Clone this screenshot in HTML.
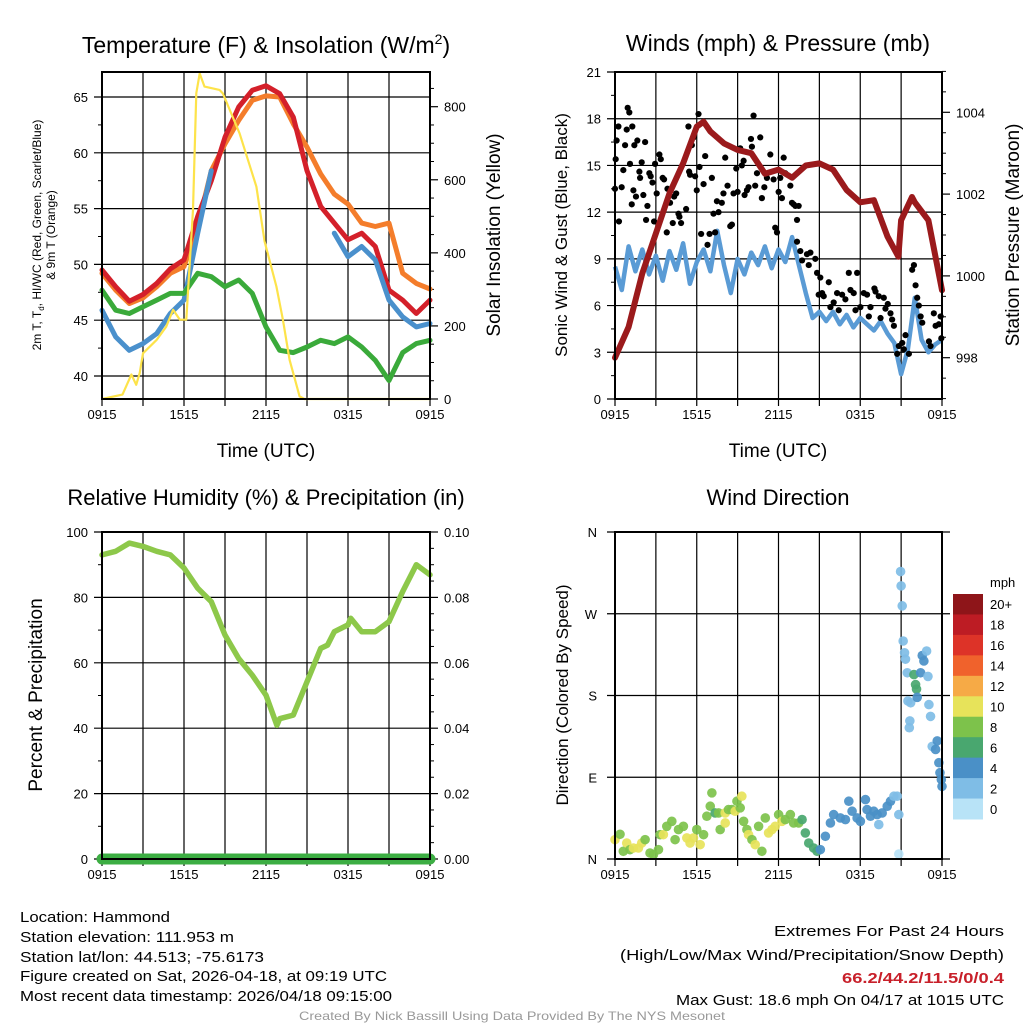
<!DOCTYPE html>
<html><head><meta charset="utf-8"><title>Hammond Meteogram</title>
<style>
html,body{margin:0;padding:0;background:#fff;}
svg{display:block;font-family:"Liberation Sans",Arial,sans-serif;}
</style></head>
<body>
<svg id="chart" width="1024" height="1024" viewBox="0 0 1024 1024" xmlns="http://www.w3.org/2000/svg">
<rect x="0" y="0" width="1024" height="1024" fill="#fff"/>
<g id="layer"></g>
<g font-size="15" fill="#000">
<text x="20" y="922" textLength="150" lengthAdjust="spacingAndGlyphs">Location: Hammond</text>
<text x="20" y="942" textLength="214" lengthAdjust="spacingAndGlyphs">Station elevation: 111.953 m</text>
<text x="20" y="962" textLength="244" lengthAdjust="spacingAndGlyphs">Station lat/lon: 44.513; -75.6173</text>
<text x="20" y="981" textLength="367" lengthAdjust="spacingAndGlyphs">Figure created on Sat, 2026-04-18, at 09:19 UTC</text>
<text x="20" y="1001" textLength="372" lengthAdjust="spacingAndGlyphs">Most recent data timestamp: 2026/04/18 09:15:00</text>
</g>
<g font-size="15" fill="#000" text-anchor="end">
<text x="1004" y="936" textLength="230" lengthAdjust="spacingAndGlyphs">Extremes For Past 24 Hours</text>
<text x="1004" y="960" textLength="384" lengthAdjust="spacingAndGlyphs">(High/Low/Max Wind/Precipitation/Snow Depth)</text>
<text x="1004" y="983" textLength="162" lengthAdjust="spacingAndGlyphs" font-weight="bold" fill="#c8202a">66.2/44.2/11.5/0/0.4</text>
<text x="1004" y="1005" textLength="328" lengthAdjust="spacingAndGlyphs">Max Gust: 18.6 mph On 04/17 at 1015 UTC</text>
</g>
<text x="512" y="1020" font-size="12" fill="#999" text-anchor="middle" textLength="426" lengthAdjust="spacingAndGlyphs">Created By Nick Bassill Using Data Provided By The NYS Mesonet</text>
</svg>
<script>
// ---------- DATA ----------
const xTickLabels = ["0915","1515","2115","0315","0915"];
const hours = [0,1,2,3,4,5,6,7,8,9,10,11,12,13,14,15,16,17,18,19,20,21,22,23,24];
const tempT = [49.5,48.0,46.7,47.3,48.3,49.6,50.4,54.3,57.5,61.4,64.1,65.6,66.0,65.3,63.2,58.4,55.2,53.7,52.2,52.8,51.6,47.7,46.8,45.6,46.8];
const temp9m = [49.2,47.7,46.5,47.0,48.0,49.2,49.8,53.4,58.4,60.8,62.9,64.7,65.1,65.0,62.6,60.5,58.1,56.3,55.4,53.7,53.4,53.7,49.2,48.3,47.8];
const tempHIWC = [45.9,43.5,42.3,42.9,43.8,45.6,46.8,52.8,58.4,null,null,null,null,null,null,null,null,52.8,50.7,51.6,50.4,46.8,45.3,44.4,44.7];
const dewpoint = [47.7,45.9,45.6,46.2,46.8,47.4,47.4,49.2,48.9,48.0,48.6,47.4,44.4,42.3,42.1,42.6,43.2,42.9,43.5,42.6,41.4,39.6,42.1,42.9,43.2];
const solarHours = [0,1.5,2.15,2.5,2.76,3.0,4.0,4.7,5.2,5.7,6.17,6.66,6.9,7.15,7.5,8.6,8.85,10.07,11.3,11.9,12.76,13.24,13.73,14.46,14.8,24];
const solarValues = [0,12,67,39,71,125,162,198,244,217,217,518,837,891,855,846,836,727,581,431,308,217,107,7,0,0];
const tempTicks = [40,45,50,55,60,65];
const solarTicks = [0,200,400,600,800];

const halfHours = [0,0.5,1,1.5,2,2.5,3,3.5,4,4.5,5,5.5,6,6.5,7,7.5,8,8.5,9,9.5,10,10.5,11,11.5,12,12.5,13,13.5,14,14.5,15,15.5,16,16.5,17,17.5,18,18.5,19,19.5,20,20.5,21,21.5,22,22.5,23,23.5,24];
const sonicWind = [8.5,7.0,9.8,8.2,9.6,8.0,9.2,7.6,9.5,8.3,10.0,7.4,8.8,9.6,8.2,10.8,8.6,6.8,9.0,8.0,9.4,8.6,9.8,8.4,9.6,8.8,10.4,8.6,6.8,5.2,5.6,5.0,5.6,4.8,5.4,4.6,5.2,4.8,4.4,5.0,4.2,3.6,1.6,3.2,6.5,3.8,3.0,3.5,3.8];
const gustHours = [0,0.05,0.12,0.25,0.29,0.49,0.61,0.74,0.86,0.93,1.05,1.10,1.23,1.27,1.35,1.42,1.54,1.64,1.79,1.84,1.96,2.08,2.21,2.28,2.38,2.52,2.62,2.75,2.87,2.94,3.06,3.26,3.36,3.50,3.60,3.80,3.85,4.04,4.24,4.34,4.49,4.66,4.73,4.85,5.22,5.39,5.44,5.51,5.64,5.76,5.88,6.00,6.13,6.2,6.32,6.5,6.62,6.79,6.94,7.11,7.23,7.35,7.48,7.6,7.84,7.96,8.09,8.26,8.46,8.58,8.70,8.9,9.0,9.19,9.31,9.44,9.51,9.68,9.8,9.98,10.05,10.17,10.29,10.42,10.66,10.78,10.96,11.15,11.4,11.64,11.76,11.89,12.01,12.13,12.25,12.38,12.5,12.87,12.99,13.11,13.24,13.36,13.48,13.36,13.6,13.73,14.09,14.22,14.34,14.7,14.83,14.95,15.07,15.2,15.32,15.69,15.81,16.05,16.3,16.42,16.67,16.91,17.16,17.28,17.52,17.65,17.77,18.01,18.26,18.5,18.63,18.75,19.04,19.12,19.36,19.49,19.73,19.85,20.02,20.22,20.34,20.47,20.71,20.83,21.08,21.2,21.32,21.57,21.81,21.94,22.06,22.18,22.3,22.43,22.55,23.04,23.16,23.4,23.53,23.77,23.9,23.95];
const gustValues = [13.5,15.4,16.6,17.5,11.4,13.6,14.7,16.3,17.3,18.7,18.4,15.1,12.5,17.5,13.4,16.3,13.0,16.6,14.6,14.2,15.2,13.1,16.5,11.5,12.4,14.5,14.3,13.9,11.4,15.1,13.2,15.7,15.4,14.2,14.1,10.7,13.5,12.6,11.3,13.0,13.2,11.9,11.7,11.3,12.2,17.5,14.6,14.4,16.3,16.8,14.3,13.4,18.3,14.9,10.6,13.8,15.6,9.9,10.6,14.2,11.9,10.7,12.7,12.0,12.6,13.2,15.5,13.7,11.1,11.2,13.2,14.8,13.3,16.1,15.0,15.3,13.1,13.4,13.6,16.7,16.2,18.2,13.7,14.5,16.8,12.9,13.6,14.2,15.7,14.1,11.0,10.7,13.3,14.2,12.9,15.5,14.5,13.7,12.6,12.5,12.4,11.5,12.4,10.1,9.5,8.9,9.3,8.6,9.4,9.0,8.1,6.7,7.8,6.8,6.6,7.5,5.9,6.2,6.8,5.7,6.7,6.4,8.1,7.0,6.8,5.7,8.1,5.9,6.8,6.7,5.3,5.9,7.1,6.9,6.6,5.2,6.5,5.8,6.1,5.5,5.1,4.7,2.9,3.4,3.6,3.2,4.1,2.9,8.3,8.6,7.3,6.5,6.0,5.3,4.9,3.7,3.4,5.5,4.7,4.8,5.3,3.9];
const pressureHours = [0,1,2,3,4,5,6,6.5,7,8,9,10,11,12,13,14,15,16,17,18,19,20,20.8,21,21.8,22,23,24];
const pressureValues = [998.0,998.75,1000.06,1001.04,1002.02,1002.75,1003.65,1003.77,1003.53,1003.24,1003.08,1003.0,1002.5,1002.6,1002.4,1002.7,1002.75,1002.6,1002.1,1001.8,1001.85,1000.96,1000.47,1001.36,1001.93,1001.8,1001.36,999.65];
const windTicks = [0,3,6,9,12,15,18,21];
const pressureTicks = [998,1000,1002,1004];

const rhHours = [0,1,2,3,4,5,6,7,8,9,10,11,12,12.8,13,14,15,16,16.5,17,18,18.2,19,20,21,22,23,24];
const rhValues = [93.0,94.1,96.6,95.6,94.1,93.0,89.0,82.8,78.7,68.5,61.3,56.2,50.1,40.9,42.9,44.0,54.2,64.4,65.4,69.5,71.6,73.6,69.5,69.5,72.6,81.8,90.0,86.9];
const precipHours = [0,24];
const precipValues = [0,0];
const rhTicks = [0,20,40,60,80,100];
const precipTicks = ["0.00","0.02","0.04","0.06","0.08","0.10"];

const dirHours = [0,0.37,0.61,0.86,1.10,1.35,1.72,1.96,2.21,2.57,2.82,3.19,3.31,3.55,3.80,4.17,4.41,4.66,5.02,5.27,5.51,5.76,6.00,6.25,6.50,6.74,6.99,7.11,7.35,7.60,7.72,8.09,8.09,8.33,8.58,8.82,8.95,9.19,9.31,9.44,9.68,9.80,10.05,10.29,10.54,10.78,11.03,11.27,11.52,11.76,12.01,12.25,12.50,12.87,13.11,13.48,13.73,13.97,14.22,14.58,14.83,15.07,15.44,15.81,16.05,16.54,16.91,17.16,17.40,17.77,18.01,18.38,18.50,18.75,18.99,19.24,19.36,19.61,19.98,20.22,20.47,20.71,20.83,20.83,20.96,21.0,21.08,21.15,21.25,21.32,21.45,21.5,21.7,21.64,21.6,21.94,22.06,22.13,22.18,22.43,22.55,22.67,22.87,22.97,23.04,23.16,23.28,23.53,23.65,23.77,23.85,23.95,24.0];
const dirDegrees = [21.3,27.2,8.5,17.6,10.3,12.1,12.1,17.6,21.3,6.6,4.8,10.3,26.8,26.8,36.0,41.5,21.3,32.4,36.0,23.2,17.6,23.2,32.4,15.8,26.8,47.1,58.1,72.8,50.7,50.7,32.4,50.7,39.7,54.4,54.4,52.6,63.6,56.3,69.1,41.5,32.4,26.8,21.3,15.8,36.0,8.5,45.2,28.7,32.4,36.0,48.9,41.5,43.4,48.9,39.7,39.7,43.4,28.7,17.6,12.1,8.5,10.3,25.0,39.7,48.9,45.2,43.4,63.6,52.6,45.2,41.5,65.4,54.4,47.1,52.6,48.9,37.9,50.7,58.1,63.6,69.1,69.1,48.9,5.5,316.5,300.7,278.7,240,227,220,205,174,172,152,144.5,203,192,187,178,205,224,218,229,201,170,157,124,120.6,130,106,95,87.5,80];
const dirSpeeds = [11,9,9,11,9,11,11,11,9,9,9,9,9,11,9,9,9,9,9,11,11,11,9,11,9,9,9,9,7,9,9,11,11,9,9,11,9,9,11,9,9,11,9,11,9,9,9,11,11,11,9,11,9,9,9,9,7,7,7,7,7,5,5,5,5,5,5,5,5,5,5,5,5,5,5,5,3,5,5,5,3,3,3,1,3,3,3,3,3,3,3,3,3,3,3,7,7,7,5,5,5,5,3,3,3,3,3,5,5,5,5,5,5];
const dirTicks = ["N","E","S","W","N"];
const speedBins = ["20+","18","16","14","12","10","8","6","4","2","0"];
const speedColors = ["#8e1519","#bd1c24","#dd3328","#f0622c","#f6aa46","#e7e35a","#7dc24b","#49a76f","#4a90c7","#7fbde6","#b8e3f7"];

// ---------- HELPERS ----------
const NS = "http://www.w3.org/2000/svg";
const layer = document.getElementById("layer");
function mk(tag, attrs, parent){
  const e = document.createElementNS(NS, tag);
  for (const k in attrs) e.setAttribute(k, attrs[k]);
  (parent||layer).appendChild(e);
  return e;
}
function txt(x,y,s,size,anchor,parent,extra){
  const t = mk("text", Object.assign({x:x,y:y,"font-size":size,"text-anchor":anchor||"middle",fill:"#000"}, extra||{}), parent);
  t.textContent = s;
  return t;
}
function linear(d0,d1,r0,r1){ return v => r0 + (v-d0)*(r1-r0)/(d1-d0); }
function pathFrom(xs, ys, xf, yf){
  let d = "", pen = false;
  for (let i=0;i<xs.length;i++){
    if (ys[i]===null){ pen=false; continue; }
    d += (pen?"L":"M") + xf(xs[i]).toFixed(1) + " " + yf(ys[i]).toFixed(1);
    pen = true;
  }
  return d;
}
function panelFrame(g, L, R, T, B, xf){
  for (let h=3; h<24; h+=3){
    const gl = mk("line",{x1:xf(h),x2:xf(h),y1:T,y2:B,stroke:"#000","stroke-width":1.2},g);
    
    
  }
  for (let h=0; h<=24; h+=3){
    const tk = mk("line",{x1:xf(h),x2:xf(h),y1:B,y2:B+7,stroke:"#000","stroke-width":1.2},g);
    
    
  }
  xTickLabels.forEach((s,i)=>{
    const t = txt(xf(i*6), B+20, s, 13, "middle", g);
    
    
  });
}
function border(g,L,R,T,B){
  const r = mk("rect",{x:L,y:T,width:R-L,height:B-T,fill:"none",stroke:"#000","stroke-width":2},g);
  
  
}

// ---------- PANEL 1 ----------
(function(){
  const L=102,R=430,T=72,B=399;
  const g = mk("g",{});
  
  
  const xf = linear(0,24,L,R);
  const yT = linear(40,65,376,97);
  const yS = linear(0,800,399,106.7);
  panelFrame(g,L,R,T,B,xf);
  tempTicks.forEach(v=>{
    const gl = mk("line",{x1:L-8,x2:R,y1:yT(v),y2:yT(v),stroke:"#000","stroke-width":1.2},g);
    
    
    const t = txt(L-14, yT(v)+5, String(v), 13, "end", g);
    
    
  });
  for (let v=37.5; v<67.5; v+=2.5){
    if (v%5===0) continue;
    if (yT(v)<T||yT(v)>B) continue;
    const mt = mk("line",{x1:L-4,x2:L,y1:yT(v),y2:yT(v),stroke:"#000","stroke-width":1},g);
    
    
  }
  solarTicks.forEach(v=>{
    const tk = mk("line",{x1:R,x2:R+8,y1:yS(v),y2:yS(v),stroke:"#000","stroke-width":1.2},g);
    
    
    const t = txt(R+14, yS(v)+5, String(v), 13, "start", g);
    
    
  });
  for (let v=50; v<900; v+=50){
    if (v%200===0) continue;
    if (yS(v)<T) continue;
    const mt = mk("line",{x1:R,x2:R+4,y1:yS(v),y2:yS(v),stroke:"#000","stroke-width":1},g);
    
    
  }
  const lo = mk("path",{d:pathFrom(hours,temp9m,xf,yT),fill:"none",stroke:"#f47d2b","stroke-width":5,"stroke-linejoin":"round","stroke-linecap":"round"},g);
  
  
  const lr = mk("path",{d:pathFrom(hours,tempT,xf,yT),fill:"none",stroke:"#d4202a","stroke-width":5,"stroke-linejoin":"round","stroke-linecap":"round"},g);
  
  
  const lb = mk("path",{d:pathFrom(hours,tempHIWC,xf,yT),fill:"none",stroke:"#4a90cc","stroke-width":5,"stroke-linejoin":"round","stroke-linecap":"round"},g);
  
  
  const lg = mk("path",{d:pathFrom(hours,dewpoint,xf,yT),fill:"none",stroke:"#3aaa3a","stroke-width":5,"stroke-linejoin":"round","stroke-linecap":"round"},g);
  
  
  const ly = mk("path",{d:pathFrom(solarHours,solarValues,xf,yS),fill:"none",stroke:"#fde34a","stroke-width":2.2,"stroke-linejoin":"round"},g);
  
  
  border(g,L,R,T,B);
  const t1 = mk("text",{x:266,y:53,"font-size":23,"text-anchor":"middle",fill:"#000"},g);
  t1.innerHTML = 'Temperature (F) &amp; Insolation (W/m<tspan font-size="14" dy="-9">2</tspan><tspan dy="9">)</tspan>';
  
  
  const xl = txt(266, 457, "Time (UTC)", 19, "middle", g);
  
  
  const yl = mk("text",{transform:"translate(41,235) rotate(-90)","font-size":12,"text-anchor":"middle",fill:"#000"},g);
  yl.innerHTML = '2m T, T<tspan font-size="8" dy="3">d</tspan><tspan dy="-3">, HI/WC (Red, Green, Scarlet/Blue)</tspan>';
  
  
  const yl2 = txt(0,0,"& 9m T (Orange)",12,"middle",g,{transform:"translate(55,235) rotate(-90)"});
  
  
  const yr = txt(0,0,"Solar Insolation (Yellow)",19,"middle",g,{transform:"translate(500,235) rotate(-90)"});
  
  
})();

// ---------- PANEL 2 ----------
(function(){
  const L=615,R=942,T=72,B=399;
  const g = mk("g",{});
  
  
  const xf = linear(0,24,L,R);
  const yW = linear(0,21,B,T);
  const yP = linear(998,1004,357.7,112.3);
  panelFrame(g,L,R,T,B,xf);
  windTicks.forEach(v=>{
    const gl = mk("line",{x1:L-8,x2:R,y1:yW(v),y2:yW(v),stroke:"#000","stroke-width":1.2},g);
    
    
    const t = txt(L-14, yW(v)+5, String(v), 13, "end", g);
    
    
  });
  for (let v=1.5; v<21; v+=3){
    const mt = mk("line",{x1:L-4,x2:L,y1:yW(v),y2:yW(v),stroke:"#000","stroke-width":1},g);
    
    
  }
  pressureTicks.forEach(v=>{
    const tk = mk("line",{x1:R,x2:R+8,y1:yP(v),y2:yP(v),stroke:"#000","stroke-width":1.2},g);
    
    
    const t = txt(R+14, yP(v)+5, String(v), 13, "start", g);
    
    
  });
  for (let v=997; v<=1005; v+=0.5){
    if (v%2===0) continue;
    const mt = mk("line",{x1:R,x2:R+4,y1:yP(v),y2:yP(v),stroke:"#000","stroke-width":1},g);
    
    
  }
  const lw = mk("path",{d:pathFrom(halfHours,sonicWind,xf,yW),fill:"none",stroke:"#5a9bd5","stroke-width":4.5,"stroke-linejoin":"round"},g);
  
  
  gustHours.forEach((h,i)=>{
    const c = mk("circle",{cx:xf(h),cy:yW(gustValues[i]),r:3.1,fill:"#000"},g);
    
    
  });
  const lp = mk("path",{d:pathFrom(pressureHours,pressureValues,xf,yP),fill:"none",stroke:"#9b1a1c","stroke-width":6,"stroke-linejoin":"round","stroke-linecap":"round"},g);
  
  
  border(g,L,R,T,B);
  const t2 = txt(778, 51, "Winds (mph) & Pressure (mb)", 23, "middle", g);
  
  
  const xl = txt(778, 457, "Time (UTC)", 19, "middle", g);
  
  
  const yl = txt(0,0,"Sonic Wind & Gust (Blue, Black)",17,"middle",g,{transform:"translate(567,235) rotate(-90)"});
  
  
  const yr = txt(0,0,"Station Pressure (Maroon)",19,"middle",g,{transform:"translate(1019,235) rotate(-90)"});
  
  
})();

// ---------- PANEL 3 ----------
(function(){
  const L=102,R=430,T=532,B=859;
  const g = mk("g",{});
  
  
  const xf = linear(0,24,L,R);
  const yR = linear(0,100,B,T);
  panelFrame(g,L,R,T,B,xf);
  rhTicks.forEach(v=>{
    const gl = mk("line",{x1:L-8,x2:R,y1:yR(v),y2:yR(v),stroke:"#000","stroke-width":1.2},g);
    
    
    const t = txt(L-14, yR(v)+5, String(v), 13, "end", g);
    
    
  });
  for (let v=10; v<100; v+=20){
    const mt = mk("line",{x1:L-4,x2:L,y1:yR(v),y2:yR(v),stroke:"#000","stroke-width":1},g);
    
    
  }
  precipTicks.forEach((s,i)=>{
    const v = i*20;
    const tk = mk("line",{x1:R,x2:R+8,y1:yR(v),y2:yR(v),stroke:"#000","stroke-width":1.2},g);
    
    
    const t = txt(R+14, yR(v)+5, s, 13, "start", g);
    
    
  });
  for (let v=5; v<100; v+=5){
    if (v%20===0) continue;
    const mt = mk("line",{x1:R,x2:R+4,y1:yR(v),y2:yR(v),stroke:"#000","stroke-width":1},g);
    
    
  }
  const lh = mk("path",{d:pathFrom(rhHours,rhValues,xf,yR),fill:"none",stroke:"#8dc84a","stroke-width":5.5,"stroke-linejoin":"round","stroke-linecap":"round"},g);
  
  
  const yPr = linear(0,0.1,B,T);
  const lpr = mk("path",{d:pathFrom(precipHours,precipValues,xf,yPr),fill:"none",stroke:"#3cae43","stroke-width":11,"stroke-linecap":"round"},g);
  
  
  border(g,L,R,T,B);
  const t3 = txt(266, 505, "Relative Humidity (%) & Precipitation (in)", 22, "middle", g);
  
  
  const yl = txt(0,0,"Percent & Precipitation",19,"middle",g,{transform:"translate(42,695) rotate(-90)"});
  
  
})();

// ---------- PANEL 4 ----------
(function(){
  const L=615,R=942,T=532,B=859;
  const g = mk("g",{});
  
  
  const xf = linear(0,24,L,R);
  const yD = linear(0,360,B,T);
  panelFrame(g,L,R,T,B,xf);
  dirTicks.forEach((s,i)=>{
    const v = i*90;
    const gl = mk("line",{x1:L-8,x2:R+8,y1:yD(v),y2:yD(v),stroke:"#000","stroke-width":1.2},g);
    
    
    const t = txt(L-18, yD(v)+5, s, 13, "end", g);
    
    
  });
  function colorFor(s){
    const idx = Math.min(10, Math.floor(s/2));
    return speedColors[10-idx];
  }
  dirHours.forEach((h,i)=>{
    const c = mk("circle",{cx:xf(h),cy:yD(dirDegrees[i]),r:4.8,fill:colorFor(dirSpeeds[i]),"fill-opacity":0.92},g);
    
    
  });
  border(g,L,R,T,B);
  const t4 = txt(778, 505, "Wind Direction", 22, "middle", g);
  
  
  const yl = txt(0,0,"Direction (Colored By Speed)",17,"middle",g,{transform:"translate(568,695) rotate(-90)"});
  
  
  const cb = mk("g",{},g);
  
  
  const h0 = 594, bh = (819-594)/speedBins.length;
  speedBins.forEach((lab,i)=>{
    const r = mk("rect",{x:953,y:h0+i*bh,width:30,height:bh+0.5,fill:speedColors[i]},cb);
    
    
    const t = txt(990, h0+i*bh+bh/2+5, lab, 13, "start", cb);
    
    
  });
  const u = txt(990, 587, "mph", 13, "start", cb);
  
  
})();
</script>
</body></html>
